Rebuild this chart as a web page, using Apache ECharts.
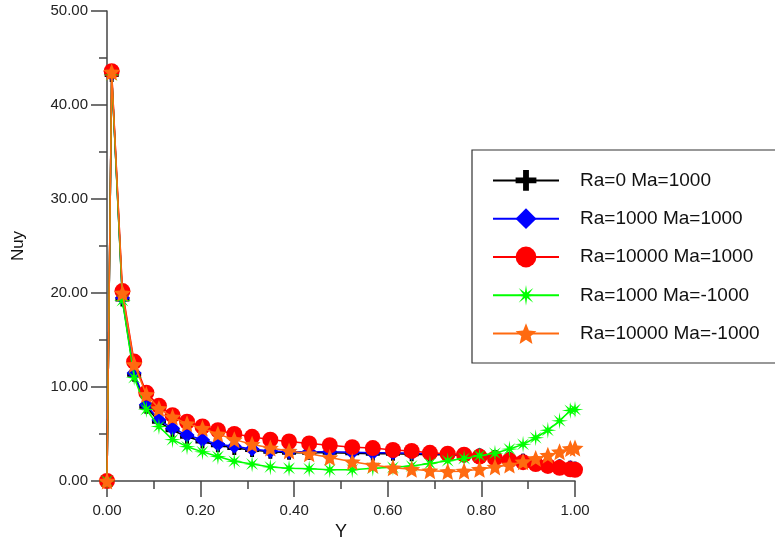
<!DOCTYPE html>
<html>
<head>
<meta charset="utf-8">
<script src="https://cdn.jsdelivr.net/npm/echarts@6/dist/echarts.min.js"></script>
<style>
html,body{margin:0;padding:0;background:#fff;}
#chart{width:775px;height:540px;}
</style>
</head>
<body>
<div id="chart"></div>
<script>
// ---- data ----
var yPositions = [0, 0.01, 0.033, 0.058, 0.084, 0.111, 0.14, 0.171, 0.204, 0.237, 0.272, 0.31, 0.349, 0.389, 0.432, 0.476, 0.524, 0.568, 0.611, 0.651, 0.69, 0.728, 0.763, 0.796, 0.829, 0.86, 0.889, 0.916, 0.942, 0.967, 0.99, 1.0];
var seriesNames = ["Ra=0 Ma=1000", "Ra=1000 Ma=1000", "Ra=10000 Ma=1000", "Ra=1000 Ma=-1000", "Ra=10000 Ma=-1000"];
var nuyRa0Ma1000 = [0, 43.2, 19.3, 11.3, 7.9, 6.3, 5.4, 4.7, 4.2, 3.8, 3.5, 3.3, 3.1, 3.0, 3.0, 3.0, 2.95, 2.9, 2.9, 2.85, 2.8, 2.8, 2.75, 2.7, 2.55, 2.35, 2.15, 1.95, 1.75, 1.55, 1.4, 1.3];
var nuyRa1000Ma1000 = [0, 43.3, 19.5, 11.5, 8.1, 6.5, 5.6, 4.9, 4.4, 3.9, 3.7, 3.4, 3.2, 3.1, 3.1, 3.1, 3.05, 3.0, 3.0, 2.95, 2.9, 2.85, 2.8, 2.75, 2.55, 2.35, 2.15, 1.95, 1.75, 1.55, 1.4, 1.3];
var nuyRa10000Ma1000 = [0, 43.6, 20.2, 12.7, 9.4, 8.0, 7.0, 6.3, 5.8, 5.4, 5.0, 4.7, 4.4, 4.2, 4.0, 3.8, 3.6, 3.5, 3.3, 3.2, 3.0, 2.9, 2.8, 2.6, 2.4, 2.2, 2.0, 1.8, 1.6, 1.4, 1.25, 1.2];
var nuyRa1000MaM1000 = [0, 43.2, 19.2, 11.0, 7.6, 5.8, 4.4, 3.65, 3.1, 2.6, 2.1, 1.8, 1.5, 1.35, 1.3, 1.2, 1.2, 1.35, 1.45, 1.6, 1.85, 2.15, 2.4, 2.7, 2.95, 3.4, 3.9, 4.6, 5.4, 6.4, 7.5, 7.6];
var nuyRa10000MaM1000 = [0, 43.5, 20.0, 12.4, 9.2, 7.7, 6.8, 6.1, 5.6, 5.0, 4.4, 3.9, 3.5, 3.2, 2.9, 2.5, 2.05, 1.7, 1.4, 1.25, 1.1, 1.0, 1.05, 1.25, 1.5, 1.7, 2.05, 2.4, 2.75, 3.1, 3.45, 3.5];
var xTicks = [0, 0.2, 0.4, 0.6, 0.8, 1.0];
var yTicks = [0, 10, 20, 30, 40, 50];

// ---- styling helpers ----
function starPath(points, inner) {
  var d = '';
  for (var i = 0; i < points * 2; i++) {
    var r = (i % 2 === 0) ? 1 : inner;
    var a = Math.PI * i / points - Math.PI / 2;
    var x = (r * Math.cos(a) * 50 + 50).toFixed(2);
    var y = (r * Math.sin(a) * 50 + 50).toFixed(2);
    d += (i === 0 ? 'M' : 'L') + x + ',' + y;
  }
  return 'path://' + d + 'Z';
}
var plusPath = 'path://M36,0H64V36H100V64H64V100H36V64H0V36H36Z';
var asteriskPath = starPath(8, 0.28);
var star5Path = starPath(5, 0.45);

var allValues = [nuyRa0Ma1000, nuyRa1000Ma1000, nuyRa10000Ma1000, nuyRa1000MaM1000, nuyRa10000MaM1000];
var colors = ['#000000', '#0000ff', '#ff0000', '#00ff00', '#ff6a10'];
var symbols = [plusPath, 'diamond', 'circle', asteriskPath, star5Path];
var sizes = [14, 15, 16, 17, 17];

function pairs(ys) {
  return yPositions.map(function (x, i) { return [x, ys[i]]; });
}

var series = seriesNames.map(function (n, k) {
  return {
    name: n,
    type: 'line',
    data: pairs(allValues[k]),
    symbol: symbols[k],
    symbolSize: sizes[k],
    showAllSymbol: true,
    lineStyle: { color: colors[k], width: 1.5 },
    itemStyle: { color: colors[k] },
    emphasis: { disabled: true },
    animation: false,
    z: 2 + k
  };
});

var font = 'Liberation Sans, Arial, sans-serif';
var axisColor = '#444';
var chart = echarts.init(document.getElementById('chart'), null, { renderer: 'canvas' });
chart.setOption({
  backgroundColor: '#ffffff',
  animation: false,
  grid: { left: 107, right: 200, top: 11, bottom: 59, containLabel: false, outerBoundsMode: 'none' },
  xAxis: {
    type: 'value',
    min: xTicks[0], max: xTicks[xTicks.length - 1], interval: 0.2,
    name: 'Y', nameLocation: 'middle', nameGap: 40,
    nameTextStyle: { fontFamily: font, fontSize: 18, color: '#111' },
    axisLine: { show: true, lineStyle: { color: axisColor, width: 1.5 } },
    axisTick: { show: true, inside: false, length: 16, lineStyle: { color: axisColor, width: 1.5 } },
    minorTick: { show: true, splitNumber: 2, length: 8, lineStyle: { color: axisColor, width: 1.5 } },
    axisLabel: { fontFamily: font, fontSize: 15, color: '#222', margin: 22, formatter: function (v) { return v.toFixed(2); } },
    splitLine: { show: false }
  },
  yAxis: {
    type: 'value',
    min: yTicks[0], max: yTicks[yTicks.length - 1], interval: 10,
    name: 'Nuy', nameLocation: 'middle', nameGap: 80,
    nameTextStyle: { fontFamily: font, fontSize: 17, color: '#111' },
    axisLine: { show: true, lineStyle: { color: axisColor, width: 1.5 } },
    axisTick: { show: true, inside: false, length: 16, lineStyle: { color: axisColor, width: 1.5 } },
    minorTick: { show: true, splitNumber: 2, length: 8, lineStyle: { color: axisColor, width: 1.5 } },
    axisLabel: { fontFamily: font, fontSize: 15, color: '#222', margin: 19, formatter: function (v) { return v.toFixed(2); } },
    splitLine: { show: false }
  },
  legend: {
    orient: 'vertical',
    left: 472, top: 150,
    padding: [20, 20, 19, 20],
    itemWidth: 66, itemHeight: 26, itemGap: 17.5,
    borderColor: '#333', borderWidth: 1.2,
    backgroundColor: '#fff',
    selectedMode: false,
    textStyle: { fontFamily: font, fontSize: 19, color: '#111', padding: [0, 0, 0, 16] },
    data: seriesNames
  },
  series: series
});
</script>
</body>
</html>
